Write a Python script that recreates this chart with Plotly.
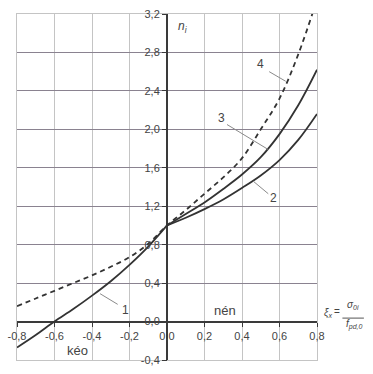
import plotly.graph_objects as go

# ---------------- data ----------------
x_neg = [-0.8, -0.7, -0.6, -0.5, -0.4, -0.3, -0.2, -0.1, 0.0]
n1 = [-0.27, -0.14, 0.0, 0.13, 0.27, 0.42, 0.59, 0.78, 1.0]
n4_neg = [0.16, 0.24, 0.32, 0.40, 0.48, 0.57, 0.67, 0.81, 1.0]

x_pos = [0.0, 0.1, 0.2, 0.3, 0.4, 0.5, 0.6, 0.7, 0.8]
n2 = [1.0, 1.08, 1.17, 1.27, 1.39, 1.52, 1.68, 1.89, 2.16]
n3 = [1.0, 1.12, 1.24, 1.38, 1.53, 1.71, 1.95, 2.25, 2.62]
n4_pos = [1.0, 1.16, 1.33, 1.50, 1.70, 2.00, 2.32, 2.78, 3.35]

x_ticks = [-0.8, -0.6, -0.4, -0.2, 0.0, 0.2, 0.4, 0.6, 0.8]
x_ticktext = ["-0,8", "-0,6", "-0,4", "-0,2", "0,0", "0,2", "0,4", "0,6", "0,8"]
y_ticks = [-0.4, 0.0, 0.4, 0.8, 1.2, 1.6, 2.0, 2.4, 2.8, 3.2]
y_ticktext = ["-0,4", "0,0", "0,4", "0,8", "1,2", "1,6", "2,0", "2,4", "2,8", "3,2"]

curve_labels = ["1", "2", "3", "4"]
region_labels = ["kéo", "nén"]

X_RANGE = [-0.8, 0.8]
Y_RANGE = [-0.4, 3.2]

LINE_C = "#333333"
TXT_C = "#444444"
FONT = "Liberation Sans, Arial, sans-serif"

fig = go.Figure()

solid = dict(color=LINE_C, width=1.8, shape="spline")
dashed = dict(color=LINE_C, width=1.8, dash="5px,4px", shape="spline")

fig.add_trace(go.Scatter(x=x_neg, y=n1, mode="lines", line=solid, hoverinfo="skip"))
fig.add_trace(go.Scatter(x=x_pos, y=n2, mode="lines", line=solid, hoverinfo="skip"))
fig.add_trace(go.Scatter(x=x_pos, y=n3, mode="lines", line=solid, hoverinfo="skip"))
fig.add_trace(go.Scatter(x=x_neg + x_pos[1:], y=n4_neg + n4_pos[1:], mode="lines",
                         line=dashed, hoverinfo="skip"))

# invisible traces to activate the overlay axes that carry tick labels at the zero lines
fig.add_trace(go.Scatter(x=[0], y=[0], xaxis="x", yaxis="y2", mode="markers",
                         marker=dict(opacity=0), hoverinfo="skip"))
fig.add_trace(go.Scatter(x=[0], y=[0], xaxis="x2", yaxis="y", mode="markers",
                         marker=dict(opacity=0), hoverinfo="skip"))

PL, PW = 10, 307  # plot-area left edge and width in pixels (from margins)


def xfrac(v):
    return (v - X_RANGE[0]) / (X_RANGE[1] - X_RANGE[0])


def yfrac(v):
    return (v - Y_RANGE[0]) / (Y_RANGE[1] - Y_RANGE[0])


def px_to_paper(px):
    return (px - PL) / PW


fig.update_layout(
    width=373, height=374,
    margin=dict(l=10, r=56, t=8, b=11),
    paper_bgcolor="white", plot_bgcolor="white",
    showlegend=False,
    font=dict(family=FONT, size=11, color=TXT_C),
    xaxis=dict(range=X_RANGE, tickvals=x_ticks, showticklabels=False, ticks="",
               showgrid=True, gridcolor="#c4c4c4", gridwidth=1,
               zeroline=True, zerolinecolor="#3a3a3a", zerolinewidth=2,
               showline=True, mirror=True, linecolor="#c4c4c4", linewidth=1),
    yaxis=dict(range=Y_RANGE, tickvals=y_ticks, showticklabels=False, ticks="",
               showgrid=True, gridcolor="#8a8290", gridwidth=1,
               zeroline=True, zerolinecolor="#3a3a3a", zerolinewidth=2,
               showline=True, mirror=True, linecolor="#c4c4c4", linewidth=1),
    yaxis2=dict(range=Y_RANGE, overlaying="y", anchor="free", position=xfrac(0.0),
                side="left", tickvals=y_ticks, ticktext=y_ticktext, ticks="outside",
                ticklen=5, tickcolor="#3a3a3a", showgrid=False, zeroline=False,
                showline=False, tickfont=dict(size=11, color=TXT_C)),
    xaxis2=dict(range=X_RANGE, overlaying="x", anchor="free", position=yfrac(0.0),
                side="bottom", tickvals=x_ticks, ticktext=x_ticktext, ticks="outside",
                ticklen=4, tickcolor="#3a3a3a", showgrid=False, zeroline=False,
                showline=False, tickfont=dict(size=11, color=TXT_C)),
)

# leader lines for curve labels (data coords)
leaders = [
    ((-0.357, 0.29), (-0.263, 0.179)),
    ((0.46, 1.46), (0.54, 1.33)),
    ((0.32, 2.05), (0.54, 1.79)),
    ((0.545, 2.60), (0.633, 2.50)),
]
for (x0, y0), (x1, y1) in leaders:
    fig.add_shape(type="line", x0=x0, y0=y0, x1=x1, y1=y1, xref="x", yref="y",
                  line=dict(color="#8a8a8a", width=1))

label_pos = [(-0.22, 0.12), (0.57, 1.29), (0.29, 2.12), (0.50, 2.68)]
for txt, (lx, ly) in zip(curve_labels, label_pos):
    fig.add_annotation(x=lx, y=ly, xref="x", yref="y", text=txt, showarrow=False,
                       font=dict(size=12, color=TXT_C))

region_pos = [(-0.477, -0.30), (0.31, 0.12)]
for txt, (lx, ly) in zip(region_labels, region_pos):
    fig.add_annotation(x=lx, y=ly, xref="x", yref="y", text=txt, showarrow=False,
                       font=dict(size=13, color=TXT_C))

# axis titles
fig.add_annotation(x=0.086, y=3.06, xref="x", yref="y", text="<i>n<sub>i</sub></i>",
                   showarrow=False, font=dict(size=12, color=TXT_C))

fig.add_annotation(x=px_to_paper(328), y=yfrac(0.01), xref="paper", yref="paper",
                   text="<i>ξ<sub>x</sub></i>", showarrow=False, xanchor="center",
                   font=dict(size=10, color=TXT_C))
fig.add_annotation(x=px_to_paper(337), y=yfrac(0.03), xref="paper", yref="paper",
                   text="=", showarrow=False, xanchor="center",
                   font=dict(size=10, color=TXT_C))
fig.add_annotation(x=px_to_paper(354), y=yfrac(0.085), xref="paper", yref="paper",
                   text="<i>σ<sub>0i</sub></i>", showarrow=False, xanchor="center",
                   font=dict(size=10, color=TXT_C))
fig.add_shape(type="line", xref="paper", yref="paper",
              x0=px_to_paper(343), x1=px_to_paper(365), y0=yfrac(0.036), y1=yfrac(0.036),
              line=dict(color="#555555", width=1))
fig.add_annotation(x=px_to_paper(355), y=yfrac(-0.12), xref="paper", yref="paper",
                   text="<i>f<sub>pd,0</sub></i>", showarrow=False, xanchor="center",
                   font=dict(size=10, color=TXT_C))

fig.write_html("out.html")
